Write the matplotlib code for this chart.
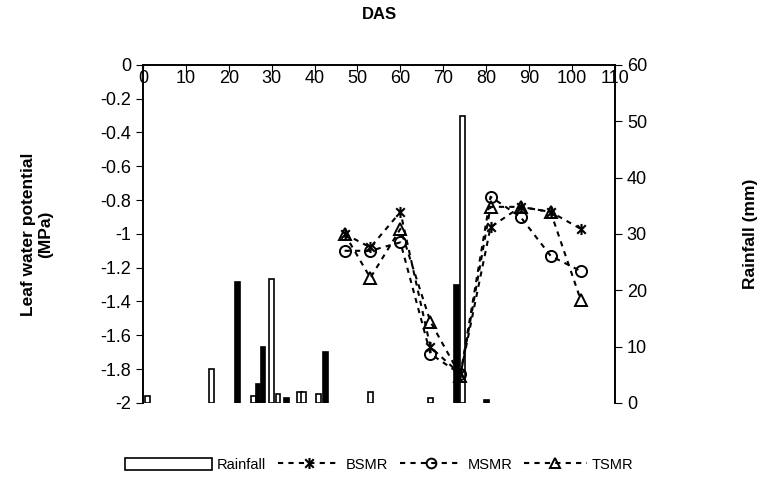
import numpy as np
import matplotlib
matplotlib.use("Agg")
import matplotlib.pyplot as plt
from matplotlib.path import Path
from matplotlib.patches import Patch, Rectangle
from matplotlib.lines import Line2D
from matplotlib.legend_handler import HandlerPatch

plt.rcParams['font.family'] = ['Liberation Sans', 'DejaVu Sans']

# Leaf water potential (MPa) by days after sowing
das = [47, 53, 60, 67, 74, 81, 88, 95, 102]
bsmr = [-1.00, -1.08, -0.87, -1.67, -1.83, -0.96, -0.84, -0.87, -0.97]
msmr = [-1.10, -1.10, -1.05, -1.71, -1.83, -0.78, -0.90, -1.13, -1.22]
tsmr = [-1.00, -1.26, -0.97, -1.52, -1.84, -0.84, -0.84, -0.87, -1.39]

# Rainfall (mm)
rain_das = [1, 16, 22, 25.8, 26.8, 28, 30, 31.5, 33.5, 36.5, 37.5, 41, 42.5, 53, 67, 73, 74.5, 80]
rain_mm = [1.2, 6, 21.5, 1.3, 3.3, 10, 22, 1.5, 0.8, 2, 2, 1.5, 9, 2, 0.8, 21, 51, 0.5]
solid = [False, False, True, False, True, True, False, False, True, False, False, False, True,
         False, False, True, False, True]

# asterisk-like marker (x with a vertical bar)
star = Path([(-1, -1), (1, 1), (-1, 1), (1, -1), (0, -1.3), (0, 1.3)],
            [Path.MOVETO, Path.LINETO, Path.MOVETO, Path.LINETO, Path.MOVETO, Path.LINETO])

fig = plt.figure(figsize=(7.64, 5.03), dpi=100)
ax = fig.add_axes([0.187, 0.199, 0.618, 0.672])
ax2 = ax.twinx()

# rainfall bars on the right axis, drawn behind the lines
ax2.bar(rain_das, rain_mm, width=1.1, color=['k' if s else 'white' for s in solid],
        edgecolor='k', linewidth=1.2, align='center')
ax.set_zorder(ax2.get_zorder() + 1)
ax.patch.set_visible(False)

ls = (0, (2.5, 2.5))
ax.plot(das, bsmr, color='k', ls=ls, lw=1.5, marker=star, ms=8, mew=1.5, mfc='none')
ax.plot(das, msmr, color='k', ls=ls, lw=1.5, marker='o', ms=8, mew=1.4, mfc='none')
ax.plot(das, tsmr, color='k', ls=ls, lw=1.5, marker='^', ms=8, mew=1.4, mfc='none')

ax.set_xlim(0, 110)
ax.set_ylim(-2, 0)
ax2.set_ylim(0, 60)

ax.xaxis.tick_top()
ax.xaxis.set_label_position('top')
ax.set_xticks(np.arange(0, 111, 10))
ax.tick_params(axis='x', direction='in', pad=-16, length=5, labelsize=13)
ax.set_yticks(np.arange(-2, 0.01, 0.2))
ax.set_yticklabels(['-2', '-1.8', '-1.6', '-1.4', '-1.2', '-1', '-0.8', '-0.6', '-0.4', '-0.2', '0'])
ax.tick_params(axis='y', direction='out', length=5, labelsize=13)
ax2.set_yticks(np.arange(0, 61, 10))
ax2.tick_params(axis='y', direction='out', length=5, labelsize=13)

for a in (ax, ax2):
    a.spines['bottom'].set_visible(False)
    for s in ('top', 'left', 'right'):
        a.spines[s].set_linewidth(1.2)

ax.set_xlabel('DAS', fontsize=12, fontweight='bold', labelpad=33)
ax.set_ylabel('Leaf water potential\n(MPa)', fontsize=12.5, fontweight='bold')
ax.yaxis.set_label_coords(-0.19, 0.5)
ax2.set_ylabel('Rainfall (mm)', fontsize=12.5, fontweight='bold')
ax2.yaxis.set_label_coords(1.27, 0.5)


def wide_box(legend, orig_handle, xdescent, ydescent, width, height, fontsize):
    return Rectangle((-xdescent - 17, -ydescent), width + 17, height)


handles = [Patch(facecolor='white', edgecolor='k', linewidth=1.2),
           Line2D([], [], color='k', ls=ls, lw=1.5, marker=star, ms=8, mew=1.5),
           Line2D([], [], color='k', ls=ls, lw=1.5, marker='o', ms=7, mew=1.4, mfc='none'),
           Line2D([], [], color='k', ls=ls, lw=1.5, marker='^', ms=7, mew=1.4, mfc='none')]
fig.legend(handles, ['Rainfall', 'BSMR', 'MSMR', 'TSMR'], loc='center',
           bbox_to_anchor=(0.512, 0.076), ncol=4, frameon=False, fontsize=10.5,
           handlelength=4.3, handleheight=0.9, numpoints=1, columnspacing=0.8,
           handletextpad=0.35, handler_map={Patch: HandlerPatch(patch_func=wide_box)})

fig.savefig('out.png', dpi=100)
